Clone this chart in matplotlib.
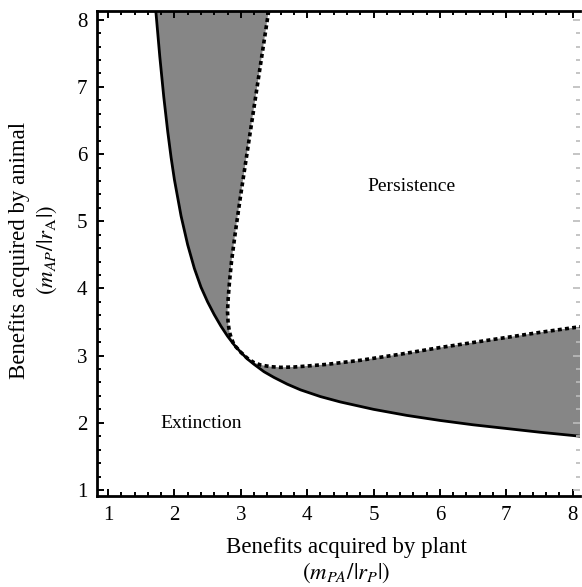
import matplotlib
matplotlib.use("Agg")
import matplotlib.pyplot as plt
from matplotlib.ticker import MultipleLocator

plt.rcParams['font.family'] = ['Liberation Serif', 'DejaVu Serif']
plt.rcParams['mathtext.fontset'] = 'stix'

# Solid boundary (extinction / coexistence)
solid_x = [1.72, 1.78, 1.84, 1.90, 1.95, 2.00, 2.10, 2.20, 2.30, 2.40, 2.50, 2.60, 2.70, 2.80, 2.90,
           3.00, 3.10, 3.20, 3.35, 3.50, 3.70, 3.90, 4.20, 4.50, 5.00, 5.50, 6.00, 6.50, 7.00, 7.50, 8.11]
solid_y = [8.13, 7.45, 6.85, 6.33, 5.95, 5.62, 5.08, 4.65, 4.30, 4.02, 3.80, 3.61, 3.44, 3.29, 3.16,
           3.05, 2.95, 2.87, 2.76, 2.675, 2.575, 2.49, 2.39, 2.31, 2.20, 2.11, 2.035, 1.97, 1.915, 1.86, 1.80]

# Dotted boundary (persistence region)
dot_x = [3.42, 3.30, 3.20, 3.10, 3.00, 2.92, 2.86, 2.83, 2.81, 2.80, 2.81, 2.83, 2.86, 2.90, 3.00,
         3.10, 3.20, 3.30, 3.45, 3.60, 3.80, 4.00, 4.30, 4.80, 5.40, 6.00, 6.50, 7.00, 7.50, 8.11]
dot_y = [8.13, 7.35, 6.70, 6.05, 5.40, 4.85, 4.40, 4.10, 3.85, 3.65, 3.48, 3.35, 3.25, 3.16, 3.05,
         2.96, 2.895, 2.86, 2.835, 2.825, 2.83, 2.845, 2.87, 2.93, 3.02, 3.12, 3.195, 3.27, 3.345, 3.43]

x_ticks = [1, 2, 3, 4, 5, 6, 7, 8]
y_ticks = [1, 2, 3, 4, 5, 6, 7, 8]

fig = plt.figure(figsize=(5.82, 5.87), dpi=100)
ax = fig.add_axes([97/582, 1-496/587, (580-97)/582, (496-11)/587])

# shaded region between the curves
poly_x = list(solid_x) + list(dot_x[::-1])
poly_y = list(solid_y) + list(dot_y[::-1])
ax.fill(poly_x, poly_y, color='#868686', lw=0, zorder=1)

ax.plot(solid_x, solid_y, color='black', lw=2.0, zorder=3, solid_joinstyle='round')
ax.plot(dot_x, dot_y, color='black', lw=2.6, linestyle=(0, (1.1, 0.9)), zorder=3)

ax.set_xlim(0.834, 8.11)
ax.set_ylim(0.91, 8.13)
ax.set_xticks(x_ticks)
ax.set_yticks(y_ticks)
ax.xaxis.set_minor_locator(MultipleLocator(0.2))
ax.yaxis.set_minor_locator(MultipleLocator(0.2))
ax.tick_params(which='both', direction='in', top=True, right=False, labelsize=15, width=1.4)
ax.tick_params(which='major', length=5, pad=7)
ax.tick_params(which='minor', length=3)
for s in ['left', 'bottom', 'top']:
    ax.spines[s].set_linewidth(2.0)
ax.spines['right'].set_visible(False)

ax2 = ax.twinx()
ax2.set_ylim(ax.get_ylim())
ax2.set_yticks(y_ticks)
ax2.yaxis.set_minor_locator(MultipleLocator(0.2))
ax2.tick_params(which='both', direction='in', labelright=False, color='#bbbbbb', width=1.2)
ax2.tick_params(which='major', length=5)
ax2.tick_params(which='minor', length=3)
for s in ax2.spines.values():
    s.set_visible(False)

ax.text(5.57, 5.52, 'Persistence', fontsize=14, ha='center', va='center')
ax.text(2.40, 1.99, 'Extinction', fontsize=14, ha='center', va='center')

fig.text(346/582, 1-547/587, 'Benefits acquired by plant', fontsize=16.5, ha='center', va='center')
fig.text(346/582, 1-573/587, r'$(m_{PA}/|r_{P}|)$', fontsize=16.5, ha='center', va='center')
fig.text(20/582, 1-250/587, 'Benefits acquired by animal', fontsize=16.5, ha='center', va='center', rotation=90)
fig.text(47/582, 1-250/587, r'$(m_{AP}/|r_{\mathrm{A}}|)$', fontsize=16.5, ha='center', va='center', rotation=90)

fig.savefig('out.png', dpi=100)
